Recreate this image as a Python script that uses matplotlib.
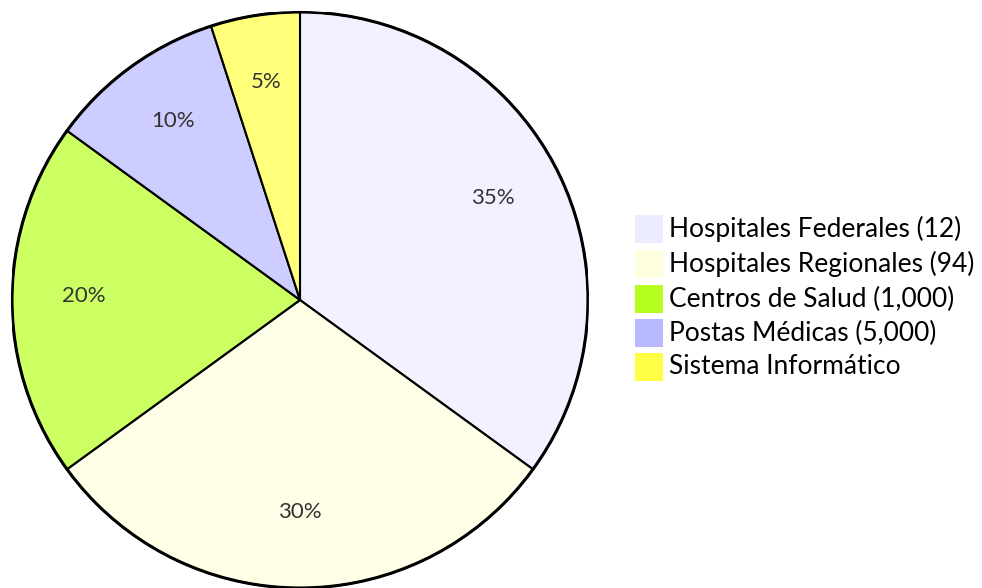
import matplotlib.pyplot as plt
import numpy as np
from matplotlib.colors import to_rgba
from matplotlib.patches import Rectangle

labels = ["Hospitales Federales (12)", "Hospitales Regionales (94)",
          "Centros de Salud (1,000)", "Postas Médicas (5,000)", "Sistema Informático"]
values = [35, 30, 20, 10, 5]
colors = ["#ECECFF", "#FFFFDE", "#B5FF20", "#B9B9FF", "#FFFF45"]

W, H = 982, 588
fig = plt.figure(figsize=(W / 100, H / 100), dpi=100)

# pie: center (300, 300) px from top, radius 288 px
cx, cy, r = 300, 300, 288
ax = fig.add_axes([(cx - r) / W, (H - cy - r) / H, 2 * r / W, 2 * r / H])
face = [to_rgba(c, 0.7) for c in colors]
wedges, texts = ax.pie(values, colors=face, startangle=90, counterclock=False,
                       radius=1.0,
                       wedgeprops=dict(edgecolor="black", linewidth=1.5))
ax.set_xlim(-1, 1)
ax.set_ylim(-1, 1)
ax.add_patch(plt.Circle((0, 0), 1.0, fill=False, edgecolor="black", linewidth=2.2))

ang = 90.0
for v in values:
    mid = np.deg2rad(ang - v / 100 * 360 / 2)
    ax.text(0.75 * np.cos(mid), 0.75 * np.sin(mid) + 0.015, f"{v}%", ha="center", va="center",
            fontsize=16, color="#333333", family="Lato")
    ang -= v / 100 * 360

# legend
lx, size = 635, 28
rows = [229, 264, 299, 333, 367]
for lab, c, yc in zip(labels, colors, rows):
    fig.patches.append(Rectangle((lx / W, (H - yc - size / 2) / H), size / W, size / H,
                                 transform=fig.transFigure, facecolor=c, edgecolor="none"))
    fig.text(669 / W, (H - yc) / H, lab, ha="left", va="center", fontsize=19,
             color="black", family="Lato")

fig.savefig("out.png", dpi=100)
